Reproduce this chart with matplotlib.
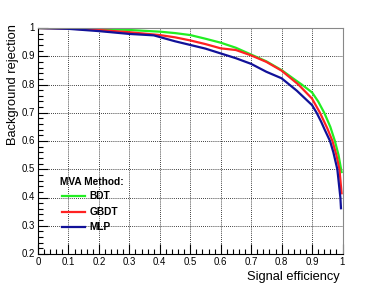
import matplotlib
matplotlib.use("Agg")
import matplotlib.pyplot as plt
from matplotlib.ticker import MultipleLocator
from matplotlib.lines import Line2D

plt.rcParams['font.family'] = ['Liberation Sans', 'DejaVu Sans']

# Data
bdt_x = [0, 0.1, 0.2, 0.3, 0.4, 0.45, 0.5, 0.55, 0.6, 0.65, 0.7, 0.75, 0.8, 0.85,
         0.866, 0.9, 0.92, 0.94, 0.96, 0.975, 0.987, 0.997]
bdt_y = [1.0, 0.999, 0.997, 0.993, 0.987, 0.982, 0.975, 0.962, 0.948, 0.93, 0.906,
         0.882, 0.851, 0.812, 0.80, 0.772, 0.74, 0.70, 0.65, 0.60, 0.55, 0.49]

gbdt_x = [0, 0.1, 0.2, 0.3, 0.4, 0.45, 0.5, 0.55, 0.6, 0.65, 0.7, 0.75, 0.8, 0.855,
          0.9, 0.926, 0.95, 0.967, 0.98, 0.99, 0.997]
gbdt_y = [1.0, 0.998, 0.993, 0.985, 0.975, 0.967, 0.956, 0.943, 0.928, 0.922, 0.903,
          0.88, 0.849, 0.80, 0.75, 0.70, 0.645, 0.60, 0.55, 0.50, 0.415]

mlp_x = [0, 0.1, 0.2, 0.3, 0.38, 0.4, 0.45, 0.5, 0.55, 0.6, 0.65, 0.7, 0.75, 0.8,
         0.85, 0.9, 0.915, 0.93, 0.942, 0.959, 0.97, 0.983, 0.993, 0.995]
mlp_y = [1.0, 0.997, 0.989, 0.979, 0.974, 0.968, 0.953, 0.94, 0.927, 0.91, 0.893,
         0.873, 0.845, 0.822, 0.778, 0.727, 0.70, 0.668, 0.639, 0.60, 0.56, 0.50,
         0.40, 0.362]

series = [("BDT", bdt_x, bdt_y, "#22ee22"),
          ("GBDT", gbdt_x, gbdt_y, "#ff2222"),
          ("MLP", mlp_x, mlp_y, "#111199")]

fig = plt.figure(figsize=(3.81, 2.84), dpi=100)
ax = fig.add_axes([38/381, 1-254/284, (342.5-38)/381, (254-28)/284])

for name, xs, ys, c in series:
    ax.plot(xs, ys, color=c, lw=1.6, solid_joinstyle='round')

ax.set_xlim(0, 1)
ax.set_ylim(0.2, 1.0)
ax.xaxis.set_major_locator(MultipleLocator(0.1))
ax.xaxis.set_minor_locator(MultipleLocator(0.02))
ax.yaxis.set_major_locator(MultipleLocator(0.1))
ax.yaxis.set_minor_locator(MultipleLocator(0.02))
ax.set_xticklabels([])
ax.set_yticklabels([])
ax.tick_params(which='both', direction='in', top=False, right=False, width=0.8)
ax.tick_params(which='major', length=7)
ax.tick_params(which='minor', length=3.5)
ax.grid(True, which='major', color='black', linestyle=(0, (1, 1.5)), lw=0.6)
for s in ax.spines.values():
    s.set_linewidth(0.8)
ax.spines['top'].set_color('#888888')
ax.spines['right'].set_color('#888888')

xt = [0, 0.1, 0.2, 0.3, 0.4, 0.5, 0.6, 0.7, 0.8, 0.9, 1]
xt_labels = ["0", "0.1", "0.2", "0.3", "0.4", "0.5", "0.6", "0.7", "0.8", "0.9", "1"]
yt = [0.2, 0.3, 0.4, 0.5, 0.6, 0.7, 0.8, 0.9, 1.0]
yt_labels = ["0.2", "0.3", "0.4", "0.5", "0.6", "0.7", "0.8", "0.9", "1"]

for v, lab in zip(xt, xt_labels):
    ax.annotate(lab, (v, 0), xycoords=('data', 'axes fraction'), xytext=(0, -8),
                textcoords='offset pixels', ha='center', va='center', fontsize=6.9)
for v, lab in zip(yt, yt_labels):
    ax.annotate(lab, (0, v), xycoords=('axes fraction', 'data'), xytext=(-3, 0),
                textcoords='offset pixels', ha='right', va='center', fontsize=6.9)

fig.text(340/381, 1-277/284, "Signal efficiency", ha='right', va='center', fontsize=9.3)
fig.text(13/381, 1-24/284, "Background rejection", ha='center', va='top',
         rotation=90, fontsize=9.3)

# Legend
fig.text(60/381, 1-181.7/284, "MVA Method:", ha='left', va='center',
         fontsize=7.3, fontweight='bold')
ys_leg = [195.7, 211.7, 227.3]
for (name, xs, ys, c), yl in zip(series, ys_leg):
    fig.add_artist(Line2D([61.7/381, 85/381], [1-yl/284, 1-yl/284], color=c, lw=1.6,
                          transform=fig.transFigure))
    fig.text(89.3/381, 1-yl/284, name, ha='left', va='center', fontsize=7.3,
             fontweight='bold')

fig.savefig("out.png", dpi=100)
